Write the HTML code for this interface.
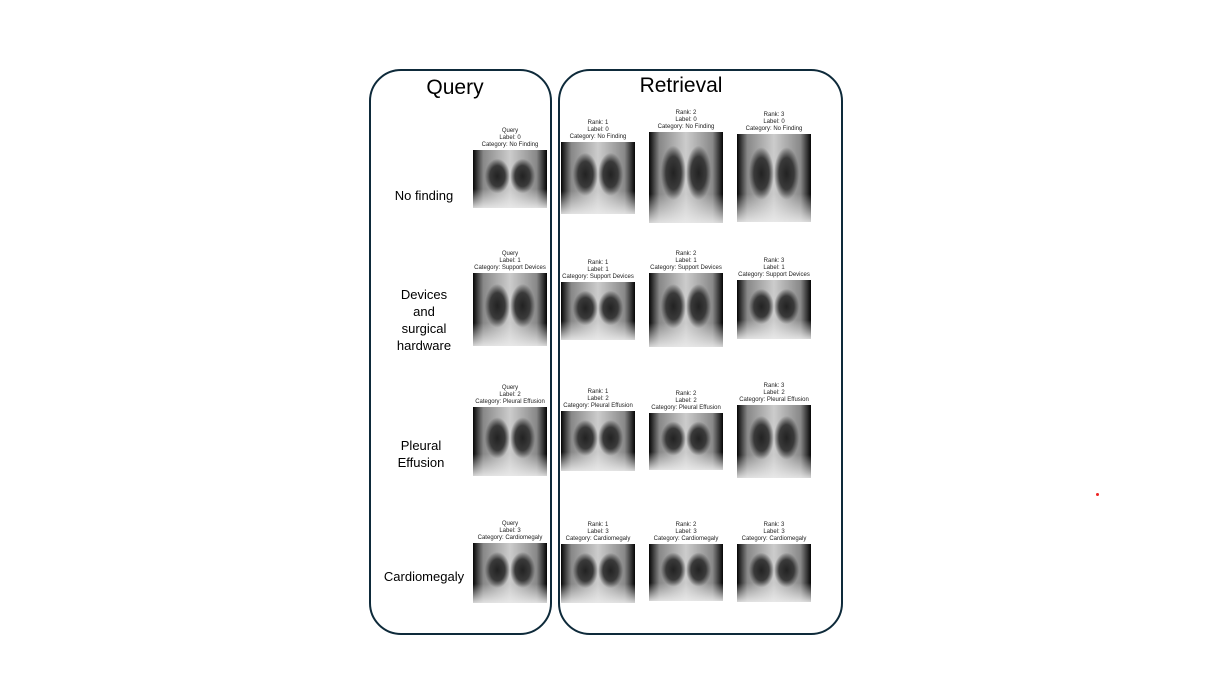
<!DOCTYPE html>
<html><head><meta charset="utf-8"><style>
body{margin:0;width:1210px;height:690px;background:#fff;position:relative;overflow:hidden;font-family:"Liberation Sans","DejaVu Sans",sans-serif;}
.box{position:absolute;border:2px solid #0e2a3a;border-radius:32px;box-sizing:border-box;}
.t{position:absolute;color:#000;}
.x{position:absolute;background:
radial-gradient(ellipse 17% 30% at 33% 45%,#222 0,#3a3a3a 60%,transparent 100%),
radial-gradient(ellipse 17% 30% at 67% 45%,#222 0,#3a3a3a 60%,transparent 100%),
linear-gradient(90deg,#050505 0,#888 14%,#ccc 50%,#888 86%,#050505 100%);}
.x:after{content:"";position:absolute;left:0;right:0;bottom:0;height:32%;background:linear-gradient(transparent,rgba(235,235,235,.9));}
.c{position:absolute;font-size:6px;line-height:7px;text-align:center;width:110px;color:#222;white-space:nowrap;}
.lab{position:absolute;font-size:13px;line-height:17px;text-align:center;width:100px;}
</style></head><body>
<div class="box" style="left:369px;top:69px;width:183px;height:566px;"></div>
<div class="box" style="left:558px;top:69px;width:285px;height:566px;"></div>
<div class="t" style="left:370px;width:170px;text-align:center;top:76px;font-size:21px;">Query</div>
<div class="t" style="left:581px;width:200px;text-align:center;top:74px;font-size:21px;">Retrieval</div>
<div class="lab" style="left:374px;top:187px;">No finding</div>
<div class="lab" style="left:374px;top:286px;">Devices<br>and<br>surgical<br>hardware</div>
<div class="lab" style="left:371px;top:437px;">Pleural<br>Effusion</div>
<div class="lab" style="left:374px;top:568px;">Cardiomegaly</div>
<div style="position:absolute;left:1096px;top:493px;width:3px;height:3px;background:#e22;border-radius:50%"></div>
<div id="g"></div>
<script>
var rows=[
[[473,150,58,"Query","0","No Finding"],[561,142,72,"Rank: 1","0","No Finding"],[649,132,91,"Rank: 2","0","No Finding"],[737,134,88,"Rank: 3","0","No Finding"]],
[[473,273,73,"Query","1","Support Devices"],[561,282,58,"Rank: 1","1","Support Devices"],[649,273,74,"Rank: 2","1","Support Devices"],[737,280,59,"Rank: 3","1","Support Devices"]],
[[473,407,69,"Query","2","Pleural Effusion"],[561,411,60,"Rank: 1","2","Pleural Effusion"],[649,413,57,"Rank: 2","2","Pleural Effusion"],[737,405,73,"Rank: 3","2","Pleural Effusion"]],
[[473,543,60,"Query","3","Cardiomegaly"],[561,544,59,"Rank: 1","3","Cardiomegaly"],[649,544,57,"Rank: 2","3","Cardiomegaly"],[737,544,58,"Rank: 3","3","Cardiomegaly"]]];
var h="";
rows.forEach(function(r){r.forEach(function(a){
h+='<div class="x" style="left:'+a[0]+'px;top:'+a[1]+'px;width:74px;height:'+a[2]+'px"></div>';
h+='<div class="c" style="left:'+(a[0]-18)+'px;top:'+(a[1]-22)+'px">'+a[3]+'<br>Label: '+a[4]+'<br>Category: '+a[5]+'</div>';
});});
document.getElementById("g").innerHTML=h;
</script>
</body></html>
